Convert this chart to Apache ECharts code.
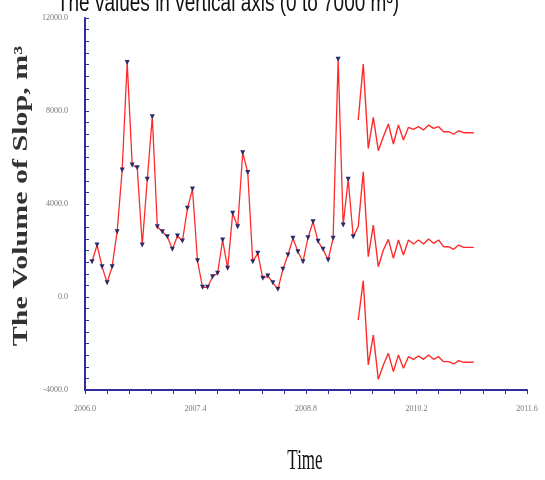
<!DOCTYPE html>
<html>
<head>
<meta charset="utf-8">
<script src="https://cdn.jsdelivr.net/npm/echarts@6/dist/echarts.min.js"></script>
<style>
  html, body { margin: 0; padding: 0; background: #fff; }
  #chart { width: 545px; height: 480px; }
</style>
</head>
<body>
<div id="chart"></div>
<script>
// Time axis tick labels (one per major tick)
const timeLabels = ['2006.0', '2007.4', '2008.8', '2010.2', '2011.6'];
const stepsPerLabel = 22;      // samples between two labelled ticks
const firstSample = 1.4;       // first observation, in samples after the axis origin

// Observed slope volumes (m³)
const observed = [
  1518, 2236, 1303, 616, 1303, 2810, 5461, 10090, 5676, 5561,
  2236, 5060, 7754, 3024, 2810, 2594, 2050, 2623, 2408, 3813,
  4644, 1562, 416, 416, 874, 1018, 2451, 1232, 3598, 3024,
  6206, 5360, 1518, 1877, 802, 903, 616, 330, 1189, 1806,
  2523, 1949, 1518, 2551, 3239, 2394, 2050, 1591, 2523, 10221,
  3096, 5060, 2594
];

// Forecast curves following the observations
const forecastUpper = [
  7611, 10019, 6394, 7726, 6292, 6894, 7439, 6579, 7396, 6751,
  7297, 7211, 7325, 7181, 7396, 7253, 7325, 7110, 7110, 7000,
  7150, 7067, 7067, 7067
];
const forecastMid = [
  3024, 5389, 1734, 3096, 1303, 2021, 2480, 1662, 2451, 1806,
  2451, 2279, 2451, 2279, 2494, 2308, 2451, 2164, 2164, 2050,
  2236, 2136, 2136, 2136
];
const forecastLower = [
  -989, 701, -2924, -1634, -3541, -2924, -2422, -3211, -2494, -3067,
  -2566, -2680, -2537, -2680, -2494, -2680, -2566, -2781, -2781, -2881,
  -2738, -2809, -2809, -2809
];

const axisBlue = '#2e2e9e';
const lineRed = '#ff2b2b';

const obsPoints = observed.map((v, i) => [i + firstSample, v]);
const fcStart = observed.length + firstSample;
const toPoints = arr => arr.map((v, i) => [i + fcStart, v]);
// the central forecast continues from the last observation
const midPoints = [[observed.length - 1 + firstSample, observed[observed.length - 1]]].concat(toPoints(forecastMid));

const chart = echarts.init(document.getElementById('chart'));
chart.setOption({
  animation: false,
  backgroundColor: '#fff',
  grid: { left: 85, right: 18, top: 18, bottom: 90 },
  xAxis: {
    type: 'value',
    min: 0,
    max: stepsPerLabel * (timeLabels.length - 1),
    interval: stepsPerLabel,
    axisLine: { onZero: false, lineStyle: { color: axisBlue, width: 2 } },
    axisTick: { length: 4, lineStyle: { color: axisBlue, width: 1 } },
    minorTick: { show: true, splitNumber: 5, length: 4, lineStyle: { color: axisBlue, width: 1 } },
    splitLine: { show: false },
    axisLabel: {
      margin: 15, fontSize: 8, color: '#777', fontFamily: 'Liberation Serif',
      formatter: v => timeLabels[Math.round(v / stepsPerLabel)]
    }
  },
  yAxis: {
    type: 'value',
    min: -4000,
    max: 12000,
    interval: 4000,
    axisLine: { show: true, onZero: false, lineStyle: { color: axisBlue, width: 2 } },
    axisTick: { show: true, inside: true, length: 4, lineStyle: { color: axisBlue, width: 1 } },
    minorTick: { show: true, splitNumber: 8, length: 4, lineStyle: { color: axisBlue, width: 1 } },
    splitLine: { show: false },
    axisLabel: {
      margin: 17, fontSize: 8, color: '#777', fontFamily: 'Liberation Serif',
      formatter: v => v.toFixed(1)
    }
  },
  series: [
    {
      type: 'line', data: obsPoints,
      symbol: 'triangle', symbolRotate: 180, symbolSize: 5,
      itemStyle: { color: '#2a2a66' },
      lineStyle: { color: lineRed, width: 1.3 },
      z: 3
    },
    {
      type: 'line', data: toPoints(forecastUpper), symbol: 'none',
      lineStyle: { color: lineRed, width: 1.4 }
    },
    {
      type: 'line', data: midPoints, symbol: 'none',
      lineStyle: { color: lineRed, width: 1.4 }
    },
    {
      type: 'line', data: toPoints(forecastLower), symbol: 'none',
      lineStyle: { color: lineRed, width: 1.4 }
    }
  ],
  graphic: [
    {
      type: 'text', x: 228, y: 17, scaleY: 1.4,
      style: {
        text: 'The values in vertical axis (0 to 7000 m³)',
        font: '19px "Liberation Sans"', fill: '#111',
        align: 'center', verticalAlign: 'bottom'
      }
    },
    {
      type: 'text', x: 22, y: 196, rotation: Math.PI / 2, scaleX: 1.5,
      style: {
        text: 'The Volume of Slop, m³',
        font: 'bold 20px "Liberation Serif"', fill: '#333',
        align: 'center', verticalAlign: 'middle'
      }
    },
    {
      type: 'text', x: 305, y: 476, scaleY: 1.7,
      style: {
        text: 'Time',
        font: '17px "Liberation Serif"', fill: '#111',
        align: 'center', verticalAlign: 'bottom'
      }
    }
  ]
});
</script>
</body>
</html>
